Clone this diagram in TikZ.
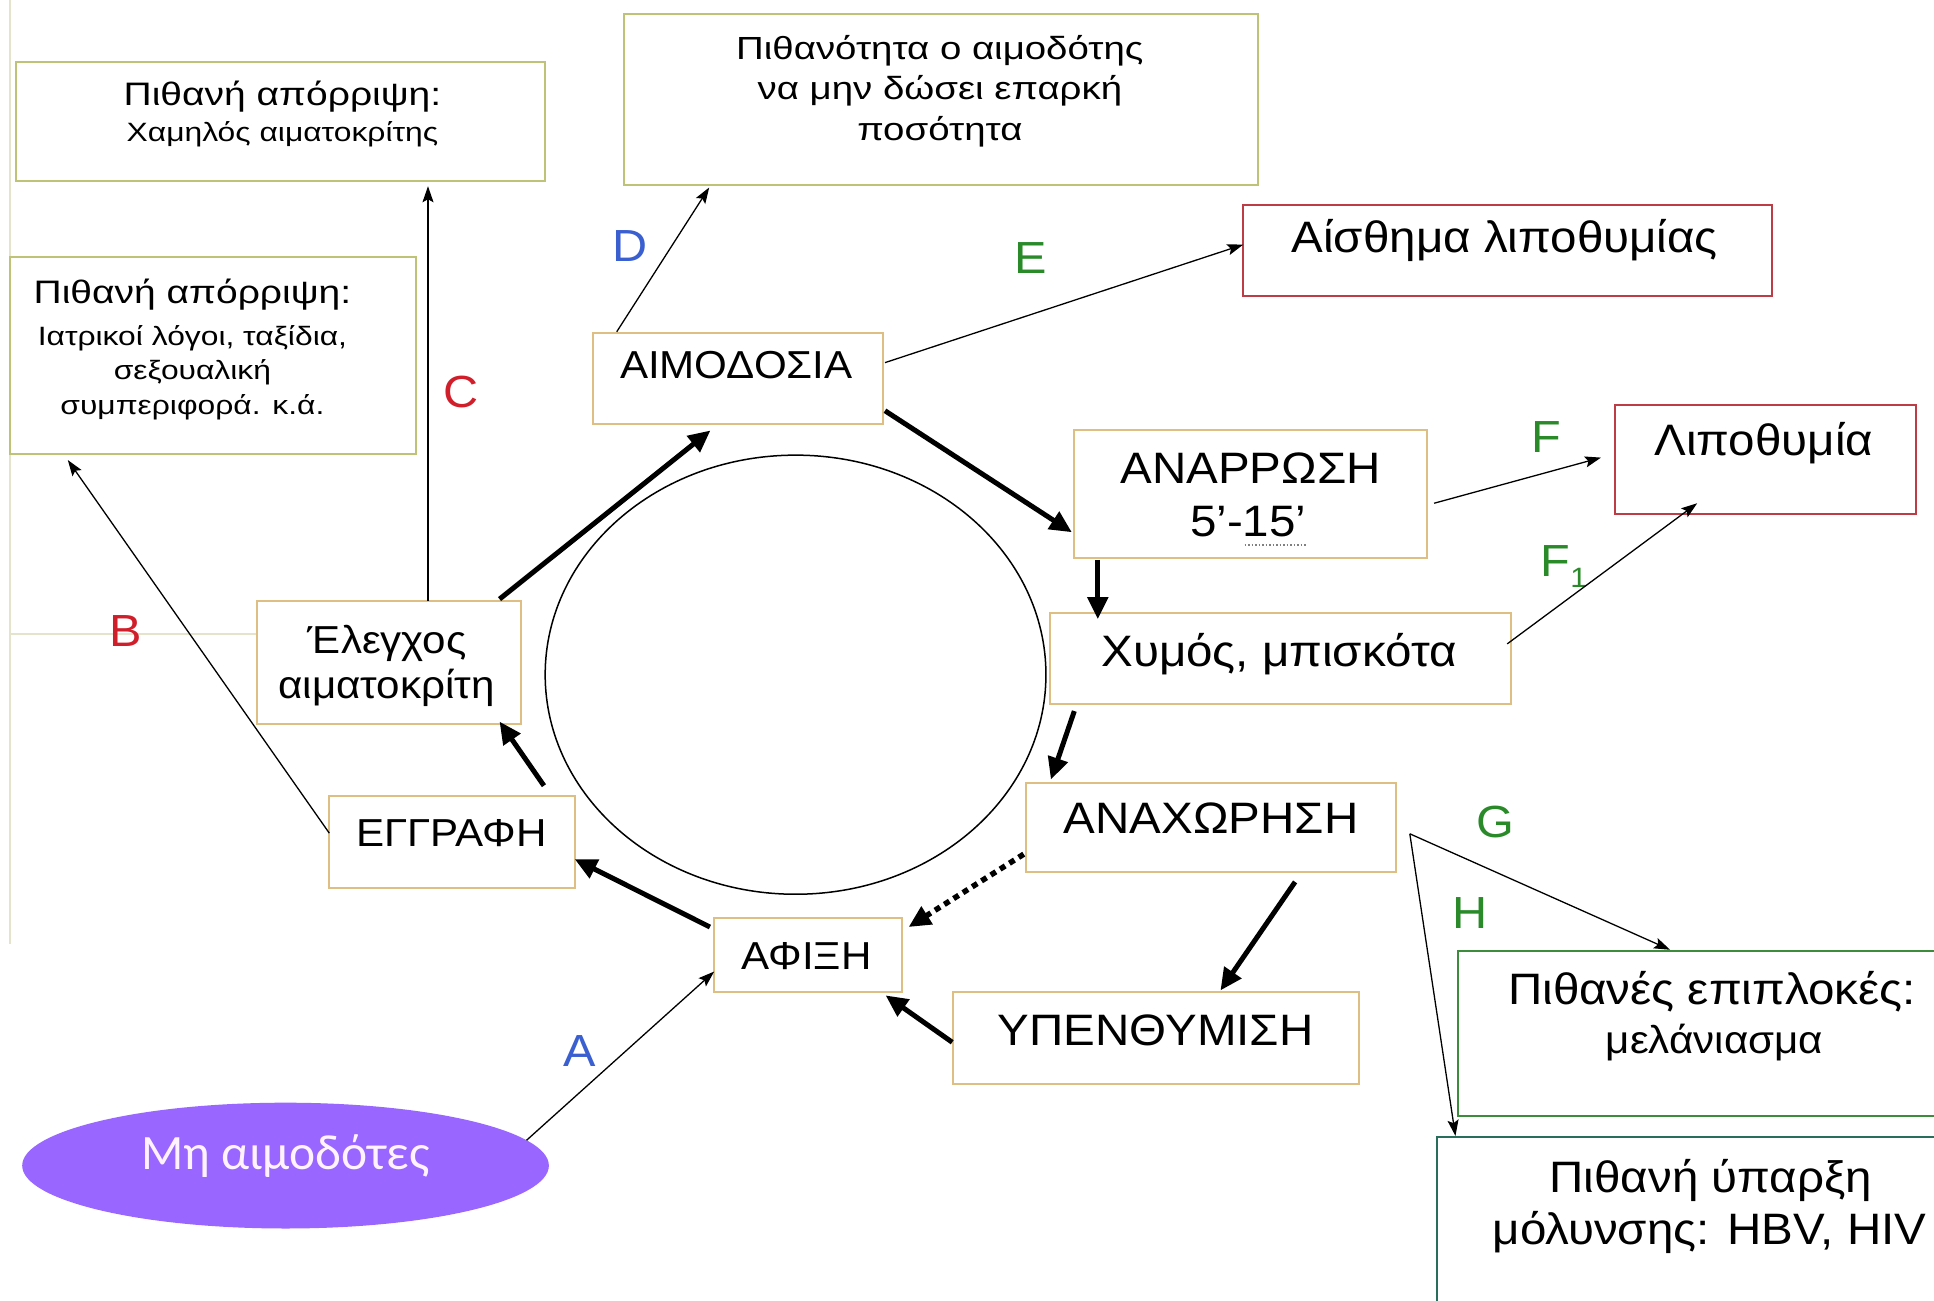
\documentclass[tikz,border=0pt]{standalone}
\usepackage{fontspec}
\setmainfont{Liberation Sans}
\newfontfamily\bigfnt[FakeStretch=1.08]{Liberation Sans}
\newfontfamily\smlfnt[FakeStretch=1.2]{Liberation Sans}
\newfontfamily\calfnt{Carlito}
\usetikzlibrary{arrows.meta,shapes.geometric,fit}
\definecolor{boxtan}{HTML}{DEBE82}
\definecolor{boxolive}{HTML}{BEC378}
\definecolor{boxred}{HTML}{BE3C46}
\definecolor{boxgreen}{HTML}{3C8C3C}
\definecolor{boxteal}{HTML}{286E5A}
\definecolor{mhdpurple}{HTML}{9966FF}
\definecolor{mhdtext}{HTML}{FFF2FF}
\definecolor{lblue}{HTML}{3A5FD0}
\definecolor{lred}{HTML}{D01E2A}
\definecolor{lgreen}{HTML}{2A8A2A}
\definecolor{faint}{HTML}{E4E4CC}
\begin{document}
\begin{tikzpicture}[x=1.2334pt,y=-1.2334pt,
  box/.style={draw, line width=2pt, inner sep=0pt, outer sep=0pt, rectangle, fill=white},
  mbox/.style={box, draw=boxtan},
  obox/.style={box, draw=boxolive},
  rbox/.style={box, draw=boxred},
  gbox/.style={box, draw=boxgreen},
  tbox/.style={box, draw=boxteal},
  txt/.style={inner sep=0pt, outer sep=0pt, anchor=base},
  big/.style={txt, font=\bigfnt\fontsize{44}{50}\selectfont},
  mid/.style={txt, font=\bigfnt\fontsize{39}{45}\selectfont},
  midb/.style={txt, font=\bigfnt\fontsize{39}{45}\selectfont},
  smA/.style={txt, font=\smlfnt\fontsize{32.5}{38}\selectfont},
  smB/.style={txt, font=\smlfnt\fontsize{26.5}{31}\selectfont},
  smC/.style={txt, font=\smlfnt\fontsize{32}{37}\selectfont},
  lab/.style={txt, font=\bigfnt\fontsize{45}{50}\selectfont},
  thk/.style={line width=5pt, -{Triangle[length=22pt,width=20pt]}},
  dotthk/.style={line width=5.5pt, dash pattern=on 6pt off 5pt, -{Triangle[length=22pt,width=20pt]}},
  thn/.style={line width=1.3pt, -{Stealth[length=16pt,width=11pt,inset=3pt]}}
]
\useasboundingbox (0,0) rectangle (1568,1054);
\fill[white] (0,0) rectangle (1568,1054);
% faint slide edges
\draw[faint, line width=1.5pt] (8,0) -- (8,765);
\draw[faint, line width=1.2pt] (8,514) -- (208,514);

% central cycle ring
\node[draw, ellipse, line width=1.5pt, minimum width=406*1.2334pt, minimum height=356*1.2334pt, inner sep=0pt] (cyc) at (645,547) {};

% boxes
\node[obox, fit={(13,50) (442,147)}] (pr1) {};
\node[obox, fit={(8,208) (337,368)}] (pr2) {};
\node[obox, fit={(506,11) (1020,150)}] (pr3) {};
\node[rbox, fit={(1008,166) (1437,240)}] (ais) {};
\node[mbox, fit={(481,270) (716,344)}] (aim) {};
\node[mbox, fit={(871,349) (1157,452)}] (anr) {};
\node[rbox, fit={(1309,328) (1553,417)}] (lip) {};
\node[mbox, fit={(851,497) (1225,571)}] (xym) {};
\node[mbox, fit={(832,635) (1132,707)}] (anx) {};
\node[mbox, fit={(773,804) (1102,879)}] (ype) {};
\node[mbox, fit={(579,744) (731,804)}] (afi) {};
\node[mbox, fit={(267,645) (466,720)}] (egg) {};
\node[mbox, fit={(208,487) (422,587)}] (ele) {};
\node[gbox, fit={(1182,771) (1620,905)}] (epi) {};
\node[tbox, fit={(1165,922) (1620,1090)}] (ypa) {};
\node[ellipse, fill=mhdpurple, minimum width=427*1.2334pt, minimum height=102*1.2334pt, inner sep=0pt, outer sep=0pt] (mhd) at (231.5,945) {};

% texts
\node[smA] (pr1a) at (229,85.5) {Πιθανή απόρριψη:};
\node[smB] (pr1b) at (229,115) {Χαμηλός αιματοκρίτης};
\node[smA] (pr2a) at (156,246) {Πιθανή απόρριψη:};
\node[smB] (pr2b) at (156,280) {Ιατρικοί λόγοι, ταξίδια,};
\node[smB] (pr2c) at (156,308) {σεξουαλική};
\node[smB] (pr2d) at (156,336) {συμπεριφορά. κ.ά.};
\node[smC] (pr3a) at (762,48) {Πιθανότητα ο αιμοδότης};
\node[smC] (pr3b) at (762,81) {να μην δώσει επαρκή};
\node[smC] (pr3c) at (762,114) {ποσότητα};
\node[big] (ais-t) at (1220,205) {Αίσθημα λιποθυμίας};
\node[mid] (aim-t) at (597,307) {ΑΙΜΟΔΟΣΙΑ};
\node[big] (anr-a) at (1014,392) {ΑΝΑΡΡΩΣΗ};
\node[big] (anr-b) at (1012,435) {5’-15’};
\draw[gray, line width=1.5pt, dash pattern=on 1.5pt off 2pt] (1009,442) -- (1060,442);
\node[big] (lip-t) at (1430,369) {Λιποθυμία};
\node[big] (xym-t) at (1037,540) {Χυμός, μπισκότα};
\node[big] (anx-t) at (982,676) {ΑΝΑΧΩΡΗΣΗ};
\node[big] (ype-t) at (937,848) {ΥΠΕΝΘΥΜΙΣΗ};
\node[mid] (afi-t) at (654,786) {ΑΦΙΞΗ};
\node[mid] (egg-t) at (366,686) {ΕΓΓΡΑΦΗ};
\node[midb] (ele-a) at (314,530) {Έλεγχος};
\node[midb] (ele-b) at (313.5,566) {αιματοκρίτη};
\node[big] (epi-a) at (1388,814) {Πιθανές επιπλοκές:};
\node[mid] (epi-b) at (1390,854) {μελάνιασμα};
\node[big] (ypa-a) at (1387,967) {Πιθανή ύπαρξη};
\node[big] (ypa-b) at (1386,1009) {μόλυνσης: HBV, HIV};
\node[txt, font=\calfnt\fontsize{49.5}{55}\selectfont, text=mhdtext] (mhd-t) at (231.5,948) {Μη αιμοδότες};

% labels
\node[lab, text=lblue] (lA) at (470,865) {A};
\node[lab, text=lred] (lB) at (102,524) {B};
\node[lab, text=lred] (lC) at (374,330) {C};
\node[lab, text=lblue] (lD) at (511,212) {D};
\node[lab, text=lgreen] (lE) at (836,222) {E};
\node[lab, text=lgreen] (lF) at (1254,367) {F};
\node[lab, text=lgreen] (lF1) at (1268,467) {F\raisebox{-0.25em}{\fontsize{28}{30}\selectfont 1}};
\node[lab, text=lgreen] (lG) at (1212,679) {G};
\node[lab, text=lgreen] (lH) at (1192,753) {H};

% thick cycle arrows
\draw[thk] ([shift={(-25,-8)}]egg.north east) -- ([shift={(-17,-2)}]ele.south east);
\draw[thk] ([shift={(-17,-1.3)}]ele.north east) -- ([shift={(95,5)}]aim.south west);
\draw[thk] ([shift={(1.5,-11)}]aim.south east) -- ([shift={(-2,-20.5)}]anr.south west);
\draw[thk] ([shift={(19,2)}]anr.south west) -- ([shift={(39,5)}]xym.north west);
\draw[thk] ([shift={(20,5.5)}]xym.south west) -- ([shift={(20,-3)}]anx.north west);
\draw[thk] ([shift={(218,8)}]anx.south west) -- ([shift={(216.5,-1)}]ype.north west);
\draw[thk] ([shift={(-1,3.5)}]ype.west) -- ([shift={(-13,3)}]afi.south east);
\draw[thk] ([shift={(-3.4,7.6)}]afi.north west) -- ([shift={(0,-23.4)}]egg.south east);
\draw[dotthk] ([shift={(-2,-14.5)}]anx.south west) -- ([shift={(5.6,7.6)}]afi.north east);

% thin arrows
\coordinate (gh) at (1143,676);
\draw[thn] (mhd.6) -- ([shift={(0,-16.3)}]afi.south west);
\draw[thn] ([shift={(0,-7)}]egg.west) -- ([shift={(47,5)}]pr2.south west);
\draw[thn] ([shift={(139,0)}]ele.north west) -- ([shift={(334,4)}]pr1.south west);
\draw[thn] ([shift={(19,-1)}]aim.north west) -- ([shift={(69,2)}]pr3.south west);
\draw[thn] ([shift={(1.5,-13)}]aim.east) -- ([shift={(0,-4.7)}]ais.west);
\draw[thn] ([shift={(5.7,7.5)}]anr.east) -- ([shift={(-11,-1.5)}]lip.west);
\draw[thn] ([shift={(-3,-12)}]xym.east) -- ([shift={(67,-9)}]lip.south west);
\draw[thn] (gh) -- ([shift={(172,-1)}]epi.north west);
\draw[thn] (gh) -- ([shift={(15,-1)}]ypa.north west);
\end{tikzpicture}
\end{document}
